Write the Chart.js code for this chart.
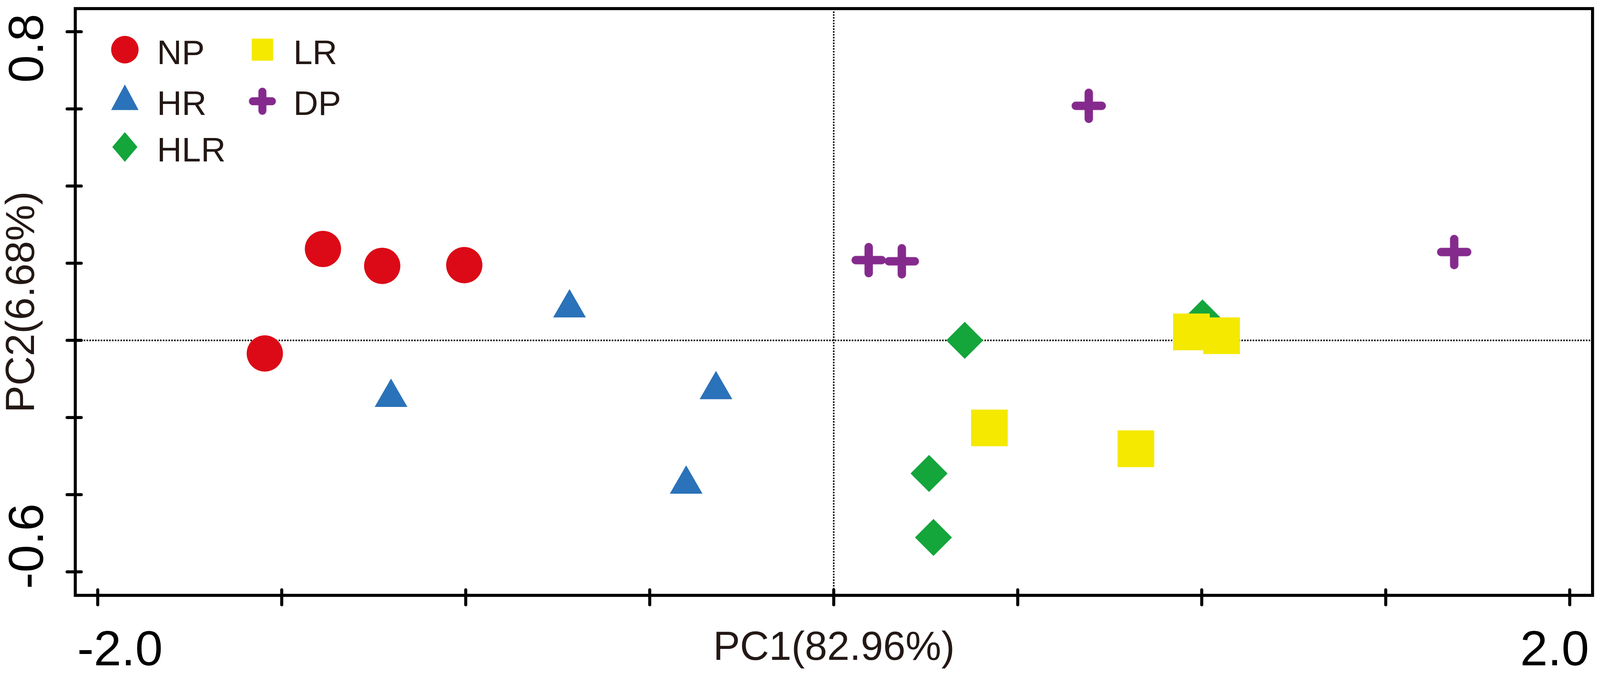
<!DOCTYPE html>
<html>
<head>
<meta charset="utf-8">
<title>PCA plot</title>
<script src="https://cdn.jsdelivr.net/npm/chart.js@4.4.1/dist/chart.umd.min.js"></script>
<style>
  html, body { margin: 0; padding: 0; background: #fff; width: 100%; height: 100%; overflow: hidden; }
  #wrap { width: 100vw; height: 100vh; position: relative; }
</style>
</head>
<body>
<div id="wrap"><canvas id="pcaChart"></canvas></div>
<script>
// groups, in legend order
const groupNames = ["NP", "HR", "HLR", "LR", "DP"];

// [PC1, PC2] per sample
const npPoints = [[-1.388, 0.237], [-1.227, 0.193], [-1.004, 0.195], [-1.546, -0.034]];
const hrPoints = [[-0.718, 0.084], [-1.203, -0.148], [-0.320, -0.128], [-0.401, -0.373]];
const hlrPoints = [[0.356, 0.000], [1.002, 0.058], [0.259, -0.345], [0.271, -0.511]];
const lrPoints = [[0.423, -0.227], [0.821, -0.281], [0.972, 0.022], [1.054, 0.012]];
const dpPoints = [[0.693, 0.608], [0.095, 0.208], [0.185, 0.205], [1.686, 0.229]];

// axis ticks and the ones that carry a label
const xTickValues = [-2.0, -1.5, -1.0, -0.5, 0, 0.5, 1.0, 1.5, 2.0];
const yTickValues = [-0.6, -0.4, -0.2, 0, 0.2, 0.4, 0.6, 0.8];
const xTickLabels = ["-2.0", "2.0"];
const yTickLabels = ["0.8", "-0.6"];

const xTitle = "PC1(82.96%)";
const yTitle = "PC2(6.68%)";

const FONT = "'Liberation Sans', Arial, Helvetica, sans-serif";
const TEXT = "#231815";

// layout measured on the 4293 x 1737 original; the window may be narrower, so scale
const wrap = document.getElementById("wrap");
const sx = wrap.clientWidth / 4293;
const sy = wrap.clientHeight / 1737;
const s = Math.sqrt(sx * sy);

const colors = {
  NP: "#dc0a17",
  HR: "#2a72b9",
  HLR: "#14a53b",
  LR: "#f5e900",
  DP: "#852a8d",
};

function makeCross(size, arm, width, color) {
  const c = document.createElement("canvas");
  c.width = Math.round(size);
  c.height = Math.round(size);
  const g = c.getContext("2d");
  const m = c.width / 2;
  g.strokeStyle = color;
  g.lineWidth = width;
  g.lineCap = "round";
  g.beginPath();
  g.moveTo(m, m - arm);
  g.lineTo(m, m + arm);
  g.moveTo(m - arm, m);
  g.lineTo(m + arm, m);
  g.stroke();
  return c;
}

const crossBig = makeCross(100 * s, 34 * s, 22 * s, colors.DP);
const crossSmall = makeCross(80 * s, 25 * s, 21 * s, colors.DP);

function toXY(list) {
  return list.map((p) => ({ x: p[0], y: p[1] }));
}

function dataset(name, points, style, radius, order) {
  return {
    label: name,
    data: toXY(points),
    pointStyle: style,
    pointRadius: radius * s,
    pointHoverRadius: radius * s,
    backgroundColor: colors[name],
    borderColor: colors[name],
    borderWidth: 0,
    showLine: false,
    order: order,
  };
}

// legend key shapes, sized like the reference key
function drawKey(ctx, kind, x, y) {
  ctx.fillStyle = colors[kind];
  ctx.beginPath();
  if (kind === "NP") {
    ctx.arc(x, y, 36 * s, 0, Math.PI * 2);
  } else if (kind === "HR") {
    ctx.moveTo(x, y - 44 * s);
    ctx.lineTo(x + 36 * s, y + 23 * s);
    ctx.lineTo(x - 36 * s, y + 23 * s);
    ctx.closePath();
  } else if (kind === "HLR") {
    ctx.moveTo(x - 33 * s, y);
    ctx.lineTo(x, y - 39 * s);
    ctx.lineTo(x + 33 * s, y);
    ctx.lineTo(x, y + 39 * s);
    ctx.closePath();
  } else if (kind === "LR") {
    ctx.rect(x - 28 * s, y - 29 * s, 56 * s, 58 * s);
  } else if (kind === "DP") {
    ctx.drawImage(crossSmall, x - crossSmall.width / 2, y - crossSmall.height / 2);
    return;
  }
  ctx.fill();
}

const framePlugin = {
  id: "frame",
  beforeDatasetsDraw(chart) {
    const { ctx, chartArea: a, scales } = chart;
    const x0 = scales.x.getPixelForValue(0);
    const y0 = scales.y.getPixelForValue(0);
    ctx.save();
    ctx.strokeStyle = "#000";
    ctx.lineWidth = 4 * s;
    ctx.setLineDash([4 * s, 3.4 * s]);
    ctx.beginPath();
    ctx.moveTo(a.left, y0);
    ctx.lineTo(a.right, y0);
    ctx.moveTo(x0, a.top);
    ctx.lineTo(x0, a.bottom);
    ctx.stroke();
    ctx.restore();
  },
  afterDraw(chart) {
    const { ctx, chartArea: a, scales } = chart;
    ctx.save();

    // box
    ctx.strokeStyle = "#000";
    ctx.lineWidth = 8 * s;
    ctx.strokeRect(a.left, a.top, a.right - a.left, a.bottom - a.top);

    // tick marks, crossing the axis line
    ctx.lineCap = "round";
    ctx.beginPath();
    scales.x.ticks.forEach((t) => {
      const px = scales.x.getPixelForValue(t.value);
      ctx.moveTo(px, a.bottom - 14 * sy);
      ctx.lineTo(px, a.bottom + 24 * sy);
    });
    scales.y.ticks.forEach((t) => {
      const py = scales.y.getPixelForValue(t.value);
      ctx.moveTo(a.left - 22 * sx, py);
      ctx.lineTo(a.left + 16 * sx, py);
    });
    ctx.stroke();

    // tick labels
    ctx.fillStyle = "#000";
    ctx.font = Math.round(130 * s) + "px " + FONT;
    ctx.textBaseline = "alphabetic";
    xTickLabels.forEach((label) => {
      const v = Number(label);
      const px = scales.x.getPixelForValue(v);
      if (v < 0) {
        ctx.textAlign = "left";
        ctx.fillText(label, px - 55 * sx, a.bottom + 179 * sy);
      } else {
        ctx.textAlign = "right";
        ctx.fillText(label, px + 52 * sx, a.bottom + 179 * sy);
      }
    });
    yTickLabels.forEach((label) => {
      const v = Number(label);
      const py = scales.y.getPixelForValue(v);
      ctx.save();
      if (v > 0) {
        ctx.translate(a.left - 87 * sx, py - 46 * sy);
        ctx.rotate(-Math.PI / 2);
        ctx.textAlign = "right";
      } else {
        ctx.translate(a.left - 87 * sx, py + 44 * sy);
        ctx.rotate(-Math.PI / 2);
        ctx.textAlign = "left";
      }
      ctx.fillText(label, 0, 0);
      ctx.restore();
    });

    // legend, two columns
    const cols = [
      { key: 133, text: 219, items: groupNames.slice(0, 3) },
      { key: 502, text: 585, items: groupNames.slice(3) },
    ];
    const rowKey = [105, 237, 354];
    const rowText = [142, 272, 391];
    ctx.font = Math.round(90 * s) + "px " + FONT;
    ctx.textAlign = "left";
    cols.forEach((col) => {
      col.items.forEach((name, i) => {
        drawKey(ctx, name, a.left + col.key * sx, a.top + rowKey[i] * sy);
        ctx.fillStyle = TEXT;
        ctx.fillText(name, a.left + col.text * sx, a.top + rowText[i] * sy);
      });
    });

    ctx.restore();
  },
};

const ctx = document.getElementById("pcaChart").getContext("2d");
const chart = new Chart(ctx, {
  type: "scatter",
  data: {
    datasets: [
      dataset("NP", npPoints, "circle", 47.5, 5),
      dataset("HR", hrPoints, "triangle", 49.5, 4),
      dataset("HLR", hlrPoints, "rectRot", 48.5, 3),
      dataset("LR", lrPoints, "rect", 67.9, 2),
      dataset("DP", dpPoints, crossBig, 45, 1),
    ],
  },
  options: {
    responsive: true,
    maintainAspectRatio: false,
    devicePixelRatio: 1,
    animation: false,
    events: [],
    layout: {
      autoPadding: false,
      padding: { left: 0, top: 22 * sy, right: 20 * sx, bottom: 0 },
    },
    plugins: {
      legend: { display: false },
      tooltip: { enabled: false },
    },
    scales: {
      x: {
        type: "linear",
        min: -2.061,
        max: 2.062,
        afterBuildTicks: (scale) => {
          scale.ticks = xTickValues.map((v) => ({ value: v }));
        },
        afterFit: (scale) => {
          scale.height = 214 * sy;
        },
        grid: { display: false },
        border: { display: false },
        ticks: { display: false },
        title: {
          display: true,
          text: xTitle,
          color: TEXT,
          font: { family: FONT, size: Math.round(105 * s), lineHeight: 1 },
          padding: { top: 0, bottom: 26 * sy },
        },
      },
      y: {
        type: "linear",
        min: -0.661,
        max: 0.86,
        afterBuildTicks: (scale) => {
          scale.ticks = yTickValues.map((v) => ({ value: v }));
        },
        afterFit: (scale) => {
          scale.width = 202 * sx;
        },
        grid: { display: false },
        border: { display: false },
        ticks: { display: false },
        title: {
          display: true,
          text: yTitle,
          color: TEXT,
          font: { family: FONT, size: Math.round(106 * s), lineHeight: 1 },
          padding: { top: 7 * sx, bottom: 0 },
        },
      },
    },
  },
  plugins: [framePlugin],
});
</script>
</body>
</html>
